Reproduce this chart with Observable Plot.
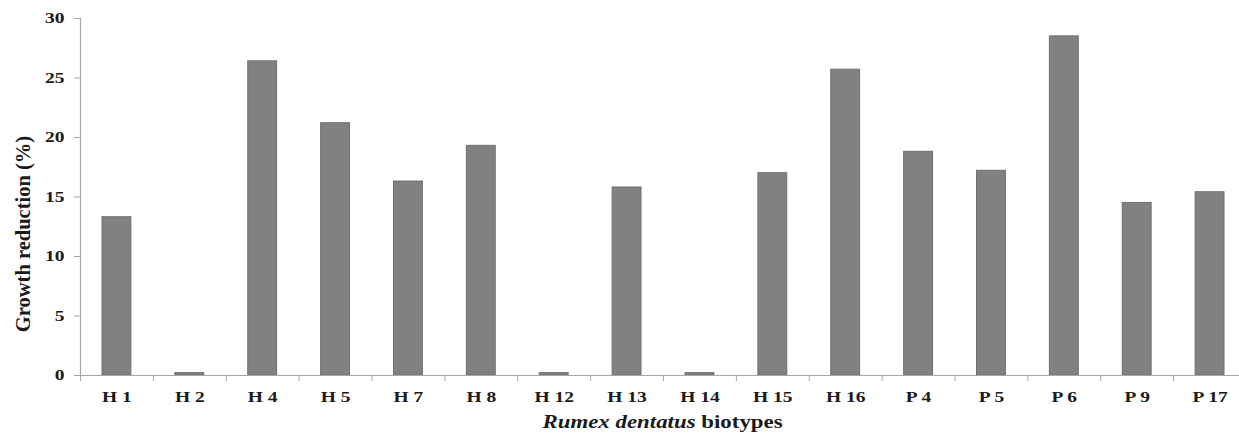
<!DOCTYPE html>
<html>
<head>
<meta charset="utf-8">
<script src="https://cdn.jsdelivr.net/npm/d3@7"></script>
<script src="https://cdn.jsdelivr.net/npm/@observablehq/plot@0.6"></script>
<style>
  html, body { margin: 0; padding: 0; background: #fff; }
  #chart { position: relative; width: 1239px; height: 435px; overflow: hidden; }
  #xtitle {
    position: absolute; left: 80px; width: 1166px; top: 410px; height: 25px;
    line-height: 25px; text-align: center;
    font-family: "Liberation Serif", "Times New Roman", serif; font-weight: bold; font-size: 18px;
    color: #1a1a1a;
  }
  #xtitle span { display: inline-block; transform: scaleX(1.27); transform-origin: center; }
</style>
</head>
<body>
<div id="chart"></div>
<script>
// Data
const biotypes = ["H 1", "H 2", "H 4", "H 5", "H 7", "H 8", "H 12", "H 13", "H 14", "H 15", "H 16", "P 4", "P 5", "P 6", "P 9", "P 17"];
const growthReduction = [13.3, 0.2, 26.4, 21.2, 16.3, 19.3, 0.2, 15.8, 0.2, 17.0, 25.7, 18.8, 17.2, 28.5, 14.5, 15.4];
const yTicks = [0, 5, 10, 15, 20, 25, 30];
const yLabel = "Growth reduction (%)";

const data = biotypes.map((b, i) => ({biotype: b, idx: i, value: growthReduction[i]}));
const boundaries = d3.range(biotypes.length + 1);
const centers = biotypes.map((b, i) => i + 0.5);

const font = "'Liberation Serif', 'Times New Roman', serif";

const plot = Plot.plot({
  width: 1239,
  height: 405,
  marginLeft: 80,
  marginRight: -7,
  marginTop: 18,
  marginBottom: 30,
  style: {fontFamily: font, background: "#fff", color: "#1a1a1a", overflow: "hidden"},
  x: {type: "linear", domain: [0, biotypes.length]},
  y: {domain: [0, 30]},
  marks: [
    Plot.rectY(data, {
      x1: "idx", x2: d => d.idx + 1, y1: 0, y2: "value",
      insetLeft: 22, insetRight: 22,
      fill: "#818181", stroke: "#6f6f6f", strokeWidth: 1
    }),
    Plot.ruleY([0], {stroke: "#a6a6a6", strokeWidth: 1.2}),
    Plot.ruleX([0], {y1: 0, y2: 30, stroke: "#a6a6a6", strokeWidth: 1.2}),
    Plot.axisY({
      ticks: yTicks, tickSize: 6, tickPadding: 10, label: null,
      stroke: "#a6a6a6", fontSize: 15, fontWeight: "bold", tickFormat: d => String(d)
    }),
    Plot.axisX({
      ticks: boundaries, tickSize: 6, tickFormat: () => "", label: null, stroke: "#a6a6a6"
    }),
    Plot.axisX({
      ticks: centers, tickSize: 0, tickPadding: 16, label: null,
      tickFormat: d => biotypes[Math.floor(d)], fontSize: 15, fontWeight: "bold"
    }),
    Plot.text([yLabel], {
      frameAnchor: "left", rotate: -90, dx: -57, dy: 37, textAnchor: "middle",
      fontSize: 20.5, fontWeight: "bold", fill: "#1a1a1a"
    })
  ]
});

// Widen tick-label glyphs horizontally (the reference's text is stretched)
plot.querySelectorAll('g[aria-label="x-axis tick label"] text, g[aria-label="y-axis tick label"] text').forEach(t => {
  const tr = t.getAttribute("transform");
  if (tr) t.setAttribute("transform", `${tr} scale(1.3,1)`);
});

const chart = document.getElementById("chart");
chart.appendChild(plot);
const title = document.createElement("div");
title.id = "xtitle";
title.innerHTML = "<span><i>Rumex dentatus</i> biotypes</span>";
chart.appendChild(title);
</script>
</body>
</html>
